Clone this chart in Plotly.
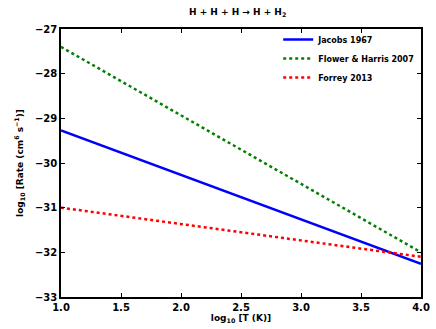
import plotly.graph_objects as go

# log10 T endpoints and log10 rate for each fit (straight lines in log-log)
logT = [1.0, 4.0]
jacobs = [-29.27, -32.26]
flower = [-27.40, -32.00]
forrey = [-31.00, -32.10]

fig = go.Figure()
fig.add_trace(go.Scatter(x=logT, y=jacobs, mode="lines", name="Jacobs 1967",
                         line=dict(color="#0000ff", width=2.5)))
fig.add_trace(go.Scatter(x=logT, y=flower, mode="lines", name="Flower & Harris 2007",
                         line=dict(color="#008000", width=2.5, dash="dot")))
fig.add_trace(go.Scatter(x=logT, y=forrey, mode="lines", name="Forrey 2013",
                         line=dict(color="#ff0000", width=2.5, dash="dot")))

axis_common = dict(showgrid=False, zeroline=False, showline=True, linecolor="black",
                   linewidth=1.5, mirror="ticks", ticks="inside", ticklen=4,
                   tickcolor="black", automargin=False,
                   tickfont=dict(size=10, color="black", weight="bold"))

fig.update_layout(
    width=436, height=329,
    margin=dict(l=61, r=15, t=29, b=32),
    plot_bgcolor="white", paper_bgcolor="white",
    font=dict(family="DejaVu Sans", color="black", weight="bold"),
    title=dict(text="H + H + H → H + H<sub>2</sub>", x=0.545, xanchor="center",
               y=0.963, yanchor="middle", font=dict(size=9, weight="bold")),
    xaxis=dict(range=[1.0, 4.0], dtick=0.5, tickformat=".1f",
               title=dict(text="log<sub>10</sub> [T (K)]",
                          font=dict(size=9, weight="bold"), standoff=3),
               **axis_common),
    yaxis=dict(range=[-33, -27], dtick=1,
               title=dict(text="log<sub>10</sub> [Rate (cm<sup>6</sup> s<sup>−1</sup>)]",
                          font=dict(size=9, weight="bold"), standoff=10),
               **axis_common),
    legend=dict(x=0.995, y=1.015, xanchor="right", yanchor="top", bgcolor="rgba(0,0,0,0)",
                font=dict(size=8, weight="bold"), tracegroupgap=0, itemwidth=30),
    showlegend=True,
)

fig.write_html("out.html", config={"displayModeBar": False},
               post_script="document.body.style.margin='0';")
